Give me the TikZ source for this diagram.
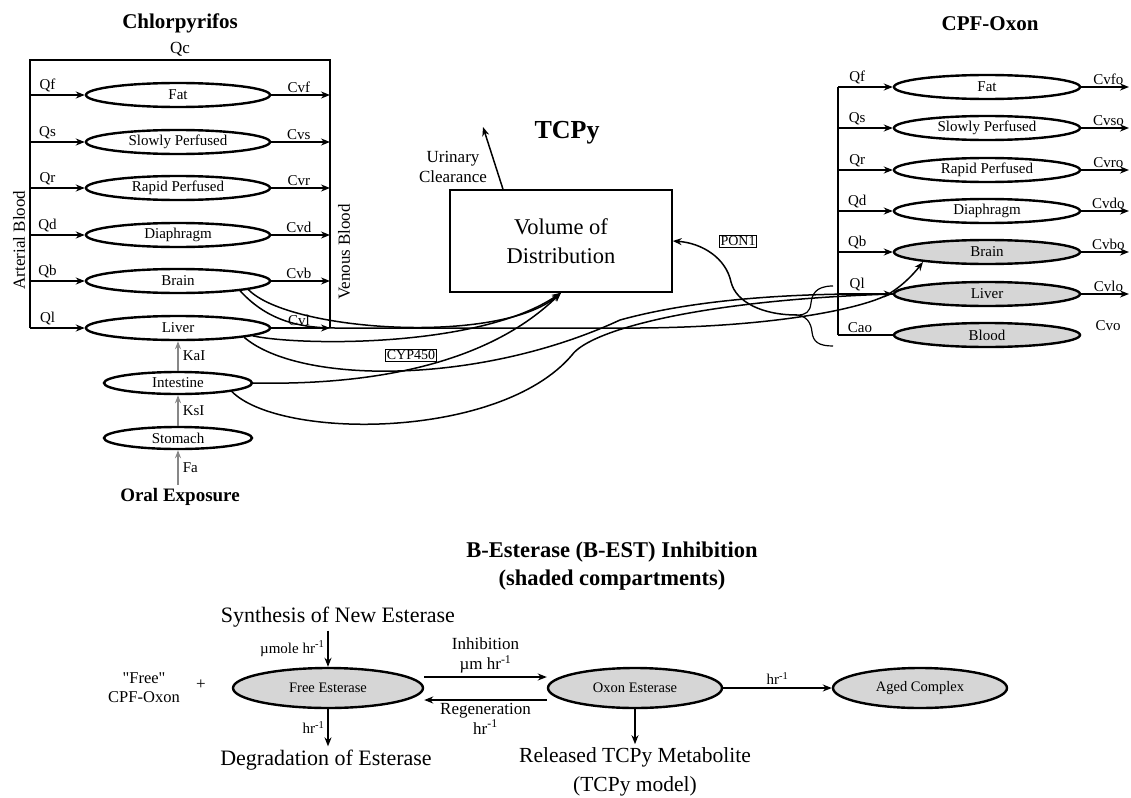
\documentclass[tikz,border=0pt]{standalone}
\usepackage{fontspec}
\setmainfont{Liberation Serif}
\newfontfamily\plainserif{Liberation Serif}[Ligatures=TeXOff]
\usetikzlibrary{arrows.meta,shapes.geometric,calc}
\definecolor{shade}{RGB}{214,214,214}
\definecolor{kgray}{RGB}{135,135,135}
\newcommand\setfs[2]{\fontsize{#1}{#2}\selectfont}

\begin{document}
\begin{tikzpicture}[x=1pt,y=-1pt,
  wire/.style={line width=1.4pt},
  flow/.style={-{Stealth[length=9pt,width=7pt]},line width=1.5pt},
  gflow/.style={-{Stealth[length=8pt,width=6pt]},line width=1.6pt,draw=kgray},
  curve/.style={line width=1.5pt},
  organ/.style={ellipse,draw,line width=2.4pt,inner sep=0pt,
    minimum width=184pt,minimum height=24pt,font={\setfs{15}{15}}},
  organR/.style={organ,minimum width=186pt},
  shaded/.style={fill=shade},
  enz/.style={ellipse,draw,fill=shade,line width=2.4pt,inner sep=0pt,
    minimum height=40pt,font={\setfs{14.5}{14.5}}},
  qlab/.style={above,inner sep=2pt,font={\setfs{15}{15}}},
  tag/.style={draw,line width=0.8pt,inner sep=1.2pt,font={\setfs{14}{14}}},
  lbl/.style={font={\setfs{17}{20}},align=center},
  head/.style={font={\bfseries\setfs{21}{21}}}
]
\useasboundingbox (0,0) rectangle (1131,797);

% ---------------- Chlorpyrifos compartments ----------------
\node[head] (chl) at (180,23) {Chlorpyrifos};
\node[font={\setfs{17}{17}}] (qc) at (180,49) {Qc};
\coordinate (artTop) at (30,60);
\coordinate (venTop) at (330,60);
\coordinate (artBot) at (30,328);
\coordinate (venBot) at (330,328);
\draw[wire] (artBot) -- (artTop) -- (venTop) -- (venBot);

\foreach \nm/\txt/\q/\c/\y in {fatL/Fat/Qf/Cvf/95,
    slowL/Slowly Perfused/Qs/Cvs/142,
    rapidL/Rapid Perfused/Qr/Cvr/188,
    diaL/Diaphragm/Qd/Cvd/235,
    brainL/Brain/Qb/Cvb/281,
    liverL/Liver/Ql/Cvl/328}{
  \node[organ] (\nm) at (178,\y) {\txt};
  \coordinate (\nm-a) at (30,\y);
  \coordinate (\nm-v) at (330,\y);
  \draw[flow] (\nm-a) -- (\nm.west) node[qlab,pos=.32] {\q};
  \draw[flow] (\nm.east) -- (\nm-v) node[qlab,pos=.47] {\c};
}

\node[rotate=90,font={\setfs{17}{17}}] (artlab) at (19,240) {Arterial Blood};
\node[rotate=90,font={\setfs{17}{17}}] (venlab) at (344,252) {Venous Blood};

% oral uptake chain
\node[organ,minimum width=148pt,minimum height=22pt] (intest) at (178,383) {Intestine};
\node[organ,minimum width=148pt,minimum height=22pt] (stom) at (178,438) {Stomach};
\node[font={\bfseries\setfs{19}{19}}] (oral) at (180,497) {Oral Exposure};
\draw[gflow] (intest.north) -- (liverL.south)
  node[midway,right,inner sep=4pt,font={\setfs{15}{15}}] {KaI};
\draw[gflow] (stom.north) -- (intest.south)
  node[midway,right,inner sep=4pt,font={\setfs{15}{15}}] {KsI};
\draw[gflow] (oral.north -| stom.south) -- (stom.south)
  node[midway,right,inner sep=4pt,font={\setfs{15}{15}}] {Fa};

% ---------------- TCPy ----------------
\node[font={\bfseries\setfs{26}{26}}] (tcpy) at (567,133) {TCPy};
\node[draw,line width=1.5pt,minimum width=222pt,minimum height=102pt,
  font={\setfs{22.5}{29}},align=center] (vod) at (561,241) {Volume of\\Distribution};
\node[lbl] (urin) at (453,167) {Urinary\\Clearance};
\coordinate (urtip) at (483,127);
\draw[flow] ([xshift=-58pt]vod.north) -- (urtip);

% ---------------- CPF-Oxon compartments ----------------
\node[head] (cpfo) at (990,24) {CPF-Oxon};
\coordinate (oxTop) at (838,87);
\coordinate (oxBot) at (838,335);
\draw[wire] (oxTop) -- (oxBot);

\foreach \nm/\txt/\q/\c/\y/\f in {fatR/Fat/Qf/Cvfo/87/white,
    slowR/Slowly Perfused/Qs/Cvso/128/white,
    rapidR/Rapid Perfused/Qr/Cvro/170/white,
    diaR/Diaphragm/Qd/Cvdo/211/white,
    brainR/Brain/Qb/Cvbo/252/shade,
    liverR/Liver/Ql/Cvlo/294/shade}{
  \node[organR,fill=\f] (\nm) at (987,\y) {\txt};
  \coordinate (\nm-a) at (838,\y);
  \coordinate (\nm-v) at (1129,\y);
  \draw[flow] (\nm-a) -- (\nm.west) node[qlab,pos=.35] {\q};
  \draw[flow] (\nm.east) -- (\nm-v) node[qlab,pos=.57] {\c};
}
\node[organR,shaded] (bloodR) at (987,335) {Blood};
\coordinate (bloodR-a) at (838,335);
\draw[wire] (bloodR-a) -- (bloodR.west) node[qlab,pos=.4] {Cao};
\node[qlab,anchor=south] (cvo) at (1108,333) {Cvo};

% ---------------- transfers between models ----------------
\coordinate (brainRhit) at (923,262);
% to TCPy volume of distribution
\draw[flow] (brainL.-7) .. controls (290,332) and (500,345) .. (vod.south);
\draw[flow] (liverL.-6) .. controls (300,346) and (480,348) .. (vod.south);
\draw[flow] (intest.east) .. controls (350,385) and (480,372) .. (vod.south);
% to oxon compartments
\draw[curve,-{Stealth[length=9pt,width=7pt]}] (brainL.-9)
  .. controls (265,318) and (295,328) .. (335,328) -- (640,328)
  .. controls (770,327) and (855,310) .. (885,296)
  .. controls (900,288) and (912,276) .. (brainRhit);
\draw[curve] (liverL.-8) .. controls (300,385) and (480,385) .. (620,320)
  .. controls (700,298) and (800,293) .. (liverR.west);
\draw[curve] (intest.-9) .. controls (280,440) and (500,440) .. (572,355)
  .. controls (590,330) and (700,300) .. (liverR.west);
% PON1 hydrolysis from liver and blood
\coordinate (bracetip) at (797,315);
\coordinate (braceU) at (833,286);
\coordinate (braceL) at (833,346);
\draw[line width=1.2pt] (braceU) .. controls (815,286) and (812,295) .. (811,303)
  .. controls (810,312) and (806,315) .. (bracetip)
  .. controls (806,316) and (811,322) .. (812,332)
  .. controls (813,342) and (819,346) .. (braceL);
\draw[flow] (bracetip) .. controls (762,315) and (736,302) .. (731,282)
  .. controls (726,258) and (702,243) .. (vod.east);
\node[tag] (cyp) at (411,355) {CYP450};
\node[tag] (pon) at (738,241) {PON1};

% ---------------- B-esterase inhibition ----------------
\node[font={\bfseries\setfs{22.5}{28}},align=center] (best) at (612,566)
  {B-Esterase (B-EST) Inhibition\\(shaded compartments)};
\node[font={\setfs{22}{22}}] (synth) at (338,617) {Synthesis of New Esterase};
\node[enz,minimum width=190pt] (free) at (328,688) {Free Esterase};
\node[enz,minimum width=174pt] (oxon) at (635,688) {Oxon Esterase};
\node[enz,minimum width=174pt] (aged) at (920,688) {Aged Complex};
\node[font={\setfs{16.5}{19}},align=center] (cpf) at (144,688)
  {{\plainserif"Free"}\\CPF-Oxon};
\node[font={\setfs{17}{17}}] (plus) at (201,685) {+};
\node[font={\setfs{22}{22}}] (degr) at (326,760) {Degradation of Esterase};
\node[font={\setfs{21.5}{29}},align=center] (rel) at (635,772)
  {Released TCPy Metabolite\\(TCPy model)};

\draw[flow] (synth.south -| free.north) -- (free.north)
  node[midway,left,inner sep=3pt,font={\setfs{15}{15}}] {µmole hr\textsuperscript{-1}};
\draw[flow] (free.south) -- (free.south |- degr.north)
  node[midway,left,inner sep=3pt,font={\setfs{15}{15}}] {hr\textsuperscript{-1}};
\draw[flow] ([yshift=11pt]free.east) -- ([yshift=11pt]oxon.west)
  node[midway,above,inner sep=3pt,lbl] {Inhibition\\µm hr\textsuperscript{-1}};
\draw[flow] ([yshift=-12pt]oxon.west) -- ([yshift=-12pt]free.east)
  node[midway,below,inner sep=2pt,lbl] {Regeneration\\hr\textsuperscript{-1}};
\draw[flow] (oxon.east) -- (aged.west)
  node[midway,above,inner sep=3pt,font={\setfs{15}{15}}] {hr\textsuperscript{-1}};
\draw[flow] (oxon.south) -- (oxon.south |- rel.north);
\end{tikzpicture}
\end{document}
